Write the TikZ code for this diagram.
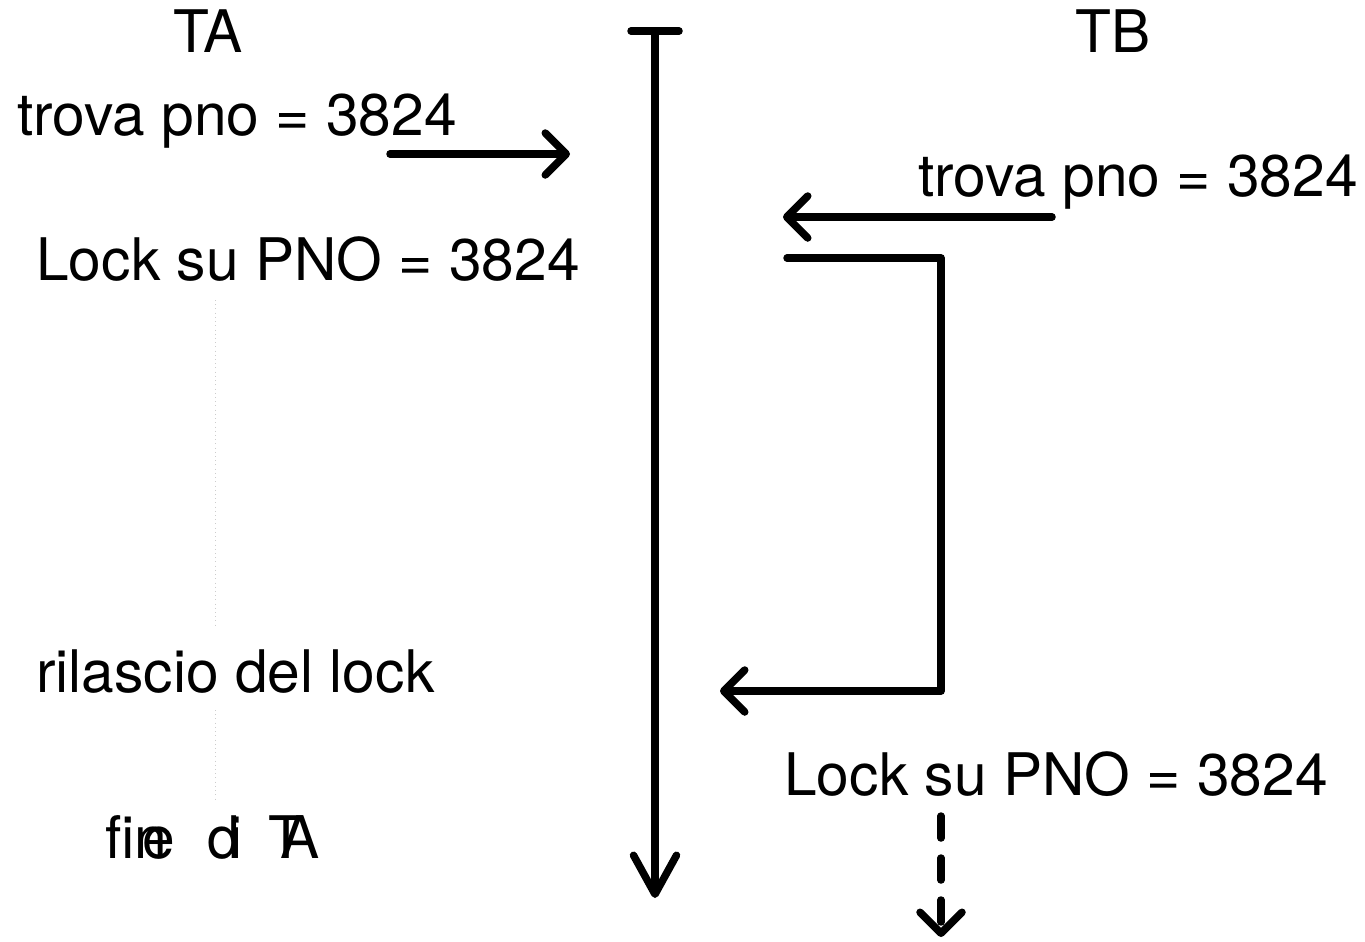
\documentclass[tikz,border=0pt]{standalone}
\usepackage{fontspec}
\setmainfont{TeX Gyre Heros}
\usetikzlibrary{arrows.meta}

\begin{document}
\begin{tikzpicture}[x=0.02cm,y=-0.02cm,
    linea/.style={line width=0.15cm, line cap=round, line join=round},
    freccia/.style={linea, -{Straight Barb[length=0.42cm,width=0.84cm,line cap=round,line join=round]}},
    lunga/.style={linea, -{Straight Barb[length=0.78cm,width=0.86cm,line cap=round,line join=round]}},
    testo/.style={anchor=base west, inner sep=0pt, font=\fontsize{33.4}{40}\selectfont},
    guida/.style={black!20, line width=0.4pt, dotted}]
        \useasboundingbox (0,0) rectangle (1365,941);

        % Asse del tempo
        \coordinate (barraSx) at (631,31);
        \coordinate (barraDx) at (679,31);
        \coordinate (inizio) at (655,31);
        \coordinate (fine) at (655,898);
        \draw[linea] (barraSx) -- (barraDx);
        \draw[lunga] (inizio) -- (fine);

        % Titoli
        \node[testo, anchor=base] (ta) at (208,52) {TA};
        \node[testo, anchor=base] (tb) at (1113,52) {TB};

        % Transazione A
        \node[testo] (trovaA) at (17,135) {trova pno = 3824};
        \node[testo] (lockA) at (36,280) {Lock su PNO = 3824};
        \node[testo] (rilascio) at (36,692) {rilascio del lock};
        \node[testo] (fineA) at (105,858) {fin\kern-.42em e\hspace{.55em}d\kern-.19em i\hspace{.45em}T\kern-.4em A};

        % Linee guida tratteggiate (quasi invisibili)
        \coordinate (g1) at (215,300);
        \coordinate (g2) at (215,628);
        \coordinate (g3) at (215,710);
        \coordinate (g4) at (215,800);
        \draw[guida] (g1) -- (g2);
        \draw[guida] (g3) -- (g4);

        % Transazione B
        \node[testo] (trovaB) at (918,196) {trova pno = 3824};
        \node[testo] (lockB) at (784,795) {Lock su PNO = 3824};

        % Richieste e attesa
        \coordinate (a1) at (390,154);
        \coordinate (a2) at (570,154);
        \draw[freccia] (a1) -- (a2);
        \coordinate (b1) at (1052,217);
        \coordinate (b2) at (783,217);
        \draw[freccia] (b1) -- (b2);
        \coordinate (c1) at (787,258);
        \coordinate (c2) at (941,258);
        \coordinate (c3) at (941,691);
        \coordinate (c4) at (720,691);
        \draw[freccia] (c1) -- (c2) -- (c3) -- (c4);
        \coordinate (d1) at (941,816);
        \coordinate (d2) at (941,937);
        \draw[freccia, dash pattern=on 0.44cm off 0.4cm] (d1) -- (d2);

    \end{tikzpicture}
\end{document}
